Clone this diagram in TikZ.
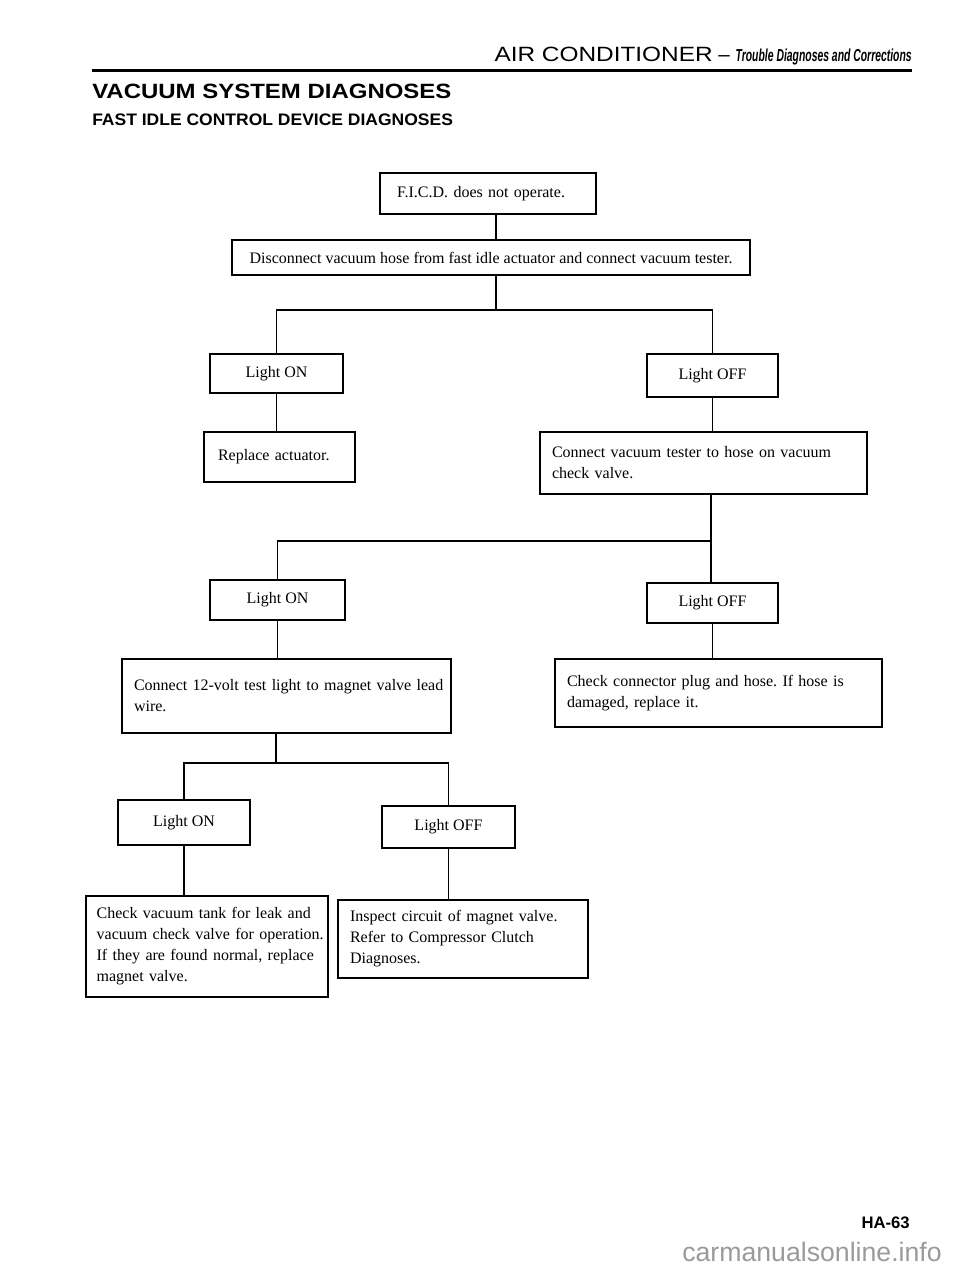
\documentclass[tikz,border=0pt]{standalone}
\usepackage{fontspec}
\usepackage{graphicx}
\setmainfont{Liberation Serif}
\newfontfamily\hdsans{Liberation Sans}
\usetikzlibrary{positioning}
\definecolor{wmgray}{HTML}{9A9A9A}
\frenchspacing

\begin{document}
\begin{tikzpicture}[x=0.75pt,y=-0.75pt,
  box/.style={draw,line width=1.2pt,inner xsep=9pt,inner ysep=3pt,align=left,
    font=\fontsize{12}{15.75}\selectfont},
  tag/.style={box,align=center},
  wire/.style={line width=1.2pt}]
\useasboundingbox (0,0) rectangle (960,1269);
% page head
\node[anchor=base east,inner sep=0pt] (head) at (912,62)
  {\hdsans\fontsize{15.5}{17}\selectfont\scalebox{1.18}[1]{AIR CONDITIONER} \textendash{} \scalebox{0.6}[1]{\fontsize{13}{15}\selectfont\bfseries\itshape Trouble Diagnoses and Corrections}};
\fill (92,69.5) rectangle (912,72);
\node[anchor=base west,inner sep=0pt] (title) at (92,99)
  {\hdsans\bfseries\fontsize{15.5}{18}\selectfont\scalebox{1.16}[1]{VACUUM SYSTEM DIAGNOSES}};
\node[anchor=base west,inner sep=0pt] (sub) at (92,126)
  {\hdsans\bfseries\fontsize{12.5}{14}\selectfont\scalebox{1.05}[1]{FAST IDLE CONTROL DEVICE DIAGNOSES}};
% chart
\node[box,inner xsep=12.75pt,text width=136.5pt,minimum height=30.75pt] (ficd) at (488,193.5) {F.I.C.D. does not operate.};
\node[tag,minimum width=388.5pt,minimum height=26.25pt] (vtest) at (491,257.5) {Disconnect vacuum hose from fast idle actuator and connect vacuum tester.};
\node[tag,minimum width=99.75pt,minimum height=29.25pt] (on1) at (276.5,373.5) {Light ON};
\node[tag,minimum width=98.25pt,minimum height=32.25pt] (off1) at (712.5,375.5) {Light OFF};
\node[box,inner xsep=10.5pt,text width=92.25pt,minimum height=37.5pt] (repl) at (279.5,457) {Replace actuator.};
\node[box,text width=227.25pt,minimum height=46.5pt] (chkv) at (703.5,463) {\mbox{Connect vacuum tester to hose on vacuum}\\check valve.};
\node[tag,minimum width=101.25pt,minimum height=30pt] (on2) at (277.5,600) {Light ON};
\node[tag,minimum width=98.25pt,minimum height=30pt] (off2) at (712.5,603) {Light OFF};
\node[box,text width=228.75pt,minimum height=55.5pt] (lamp) at (286.5,696) {\mbox{Connect 12-volt test light to magnet valve lead}\\wire.};
\node[box,text width=227.25pt,minimum height=51pt] (plug) at (718.5,693) {\mbox{Check connector plug and hose. If hose is}\\damaged, replace it.};
\node[tag,minimum width=99pt,minimum height=33.75pt] (on3) at (184,822.5) {Light ON};
\node[tag,minimum width=99.75pt,minimum height=31.5pt] (off3) at (448.5,827) {Light OFF};
\node[box,inner xsep=8pt,text width=165.5pt,minimum height=75.75pt] (tank) at (207,946.5) {\mbox{Check vacuum tank for leak and}\\\mbox{vacuum check valve for operation.}\\\mbox{If they are found normal, replace}\\magnet valve.};
\node[box,text width=169.5pt,minimum height=58.5pt] (circ) at (463,939) {\mbox{Inspect circuit of magnet valve.}\\Refer to Compressor Clutch\\Diagnoses.};
\coordinate (j1) at (496,310);
\coordinate (j2) at (711,541);
\coordinate (j3) at (276,763);
\draw[wire] (ficd.south -| j1) -- (vtest.north -| j1);
\draw[wire] (vtest.south -| j1) -- (j1);
\draw[wire] (on1.north) |- (j1) -| (off1.north);
\draw[wire] (on1.south) -- (on1.south |- repl.north);
\draw[wire] (off1.south) -- (off1.south |- chkv.north);
\draw[wire] (chkv.south -| j2) -- (off2.north -| j2);
\draw[wire] (on2.north) |- (j2);
\draw[wire] (on2.south) -- (on2.south |- lamp.north);
\draw[wire] (off2.south) -- (off2.south |- plug.north);
\draw[wire] (lamp.south -| j3) -- (j3);
\draw[wire] (on3.north) |- (j3) -| (off3.north);
\draw[wire] (on3.south) -- (on3.south |- tank.north);
\draw[wire] (off3.south) -- (off3.south |- circ.north);
% foot
\node[anchor=base east,inner sep=0pt,font=\hdsans\bfseries\fontsize{12.5}{14}\selectfont] (page) at (910,1228) {HA-63};
\node[anchor=base east,inner sep=0pt,text=wmgray,font=\hdsans\fontsize{20}{22}\selectfont] (mark) at (942,1261) {carmanualsonline.info};
\end{tikzpicture}
\end{document}
